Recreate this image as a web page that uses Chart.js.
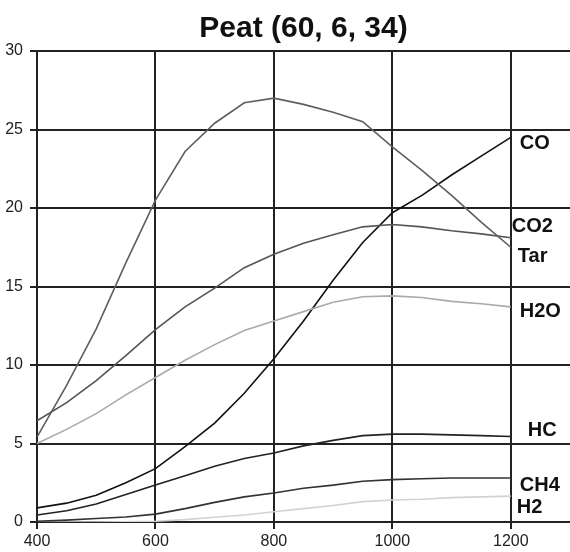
<!DOCTYPE html>
<html>
<head>
<meta charset="utf-8">
<script src="https://cdn.jsdelivr.net/npm/chart.js@4.4.1/dist/chart.umd.min.js"></script>
<style>
  html, body { margin: 0; padding: 0; background: #fff; }
  #wrap { width: 570px; height: 552px; }
</style>
</head>
<body>
<div id="wrap"><canvas id="peat-chart"></canvas></div>
<script>
  // temperatures (x) and gas yields (y)
  var temps = [400, 450, 500, 550, 600, 650, 700, 750, 800, 850, 900, 950, 1000, 1050, 1100, 1150, 1200];
  var tar = [5.4, 8.7, 12.3, 16.5, 20.5, 23.6, 25.4, 26.7, 27.0, 26.6, 26.1, 25.5, 23.9, 22.4, 20.8, 19.1, 17.5];
  var co  = [0.9, 1.2, 1.7, 2.5, 3.4, 4.8, 6.3, 8.2, 10.4, 12.8, 15.4, 17.8, 19.7, 20.8, 22.1, 23.3, 24.5];
  var co2 = [6.45, 7.6, 9.0, 10.6, 12.25, 13.7, 14.9, 16.2, 17.05, 17.75, 18.3, 18.8, 18.95, 18.8, 18.55, 18.35, 18.1];
  var h2o = [5.0, 5.9, 6.9, 8.1, 9.2, 10.3, 11.3, 12.2, 12.8, 13.4, 14.0, 14.35, 14.4, 14.3, 14.05, 13.9, 13.7];
  var hc  = [0.45, 0.72, 1.15, 1.75, 2.35, 2.95, 3.55, 4.05, 4.4, 4.85, 5.2, 5.5, 5.6, 5.6, 5.55, 5.5, 5.45];
  var ch4 = [0.05, 0.12, 0.22, 0.32, 0.5, 0.85, 1.25, 1.6, 1.85, 2.15, 2.35, 2.6, 2.7, 2.75, 2.8, 2.8, 2.8];
  var h2  = [0, 0, 0, 0.02, 0.05, 0.15, 0.3, 0.45, 0.65, 0.85, 1.05, 1.3, 1.4, 1.45, 1.55, 1.6, 1.65];

  var xTicks = [400, 600, 800, 1000, 1200];
  var yTicks = [0, 5, 10, 15, 20, 25, 30];

  var seriesNames = ['Tar', 'CO2', 'H2O', 'CO', 'HC', 'CH4', 'H2'];
  var seriesData = [tar, co2, h2o, co, hc, ch4, h2];
  var seriesColors = ['#5e5e5e', '#555555', '#aaaaaa', '#111111', '#222222', '#333333', '#d2d2d2'];

  // end labels: y value where each name sits, and pixel nudge right of 1200
  var labelNames = ['CO', 'CO2', 'Tar', 'H2O', 'HC', 'CH4', 'H2'];
  var labelY = [24.1, 18.8, 16.9, 13.4, 5.8, 2.3, 0.95];
  var labelDx = [9, 1, 7, 9, 17, 9, 6];

  function toPoints(vals) {
    return vals.map(function (v, i) { return { x: temps[i], y: v }; });
  }

  var endLabels = {
    id: 'endLabels',
    afterDatasetsDraw: function (chart) {
      var ctx = chart.ctx;
      var xs = chart.scales.x, ys = chart.scales.y;
      ctx.save();
      ctx.font = 'bold 20px "Liberation Sans", Arial, sans-serif';
      ctx.fillStyle = '#111';
      ctx.textAlign = 'left';
      ctx.textBaseline = 'middle';
      labelNames.forEach(function (name, i) {
        ctx.fillText(name, xs.getPixelForValue(1200) + labelDx[i], ys.getPixelForValue(labelY[i]));
      });
      ctx.restore();
    }
  };

  var ctx = document.getElementById('peat-chart').getContext('2d');
  new Chart(ctx, {
    type: 'line',
    data: {
      datasets: seriesNames.map(function (name, i) {
        return {
          label: name,
          data: toPoints(seriesData[i]),
          borderColor: seriesColors[i],
          borderWidth: 1.6,
          pointRadius: 0,
          tension: 0,
          fill: false
        };
      })
    },
    options: {
      responsive: true,
      maintainAspectRatio: false,
      animation: false,
      layout: { padding: 0 },
      scales: {
        x: {
          type: 'linear',
          min: 400,
          max: 1300,
          afterBuildTicks: function (scale) {
            scale.ticks = xTicks.map(function (v) { return { value: v }; });
          },
          afterFit: function (scale) { scale.height = 30; },
          grid: { color: '#222', lineWidth: 2, tickLength: 7 },
          border: { color: '#222', width: 2 },
          ticks: {
            color: '#222',
            padding: 3,
            maxRotation: 0,
            callback: function (v) { return String(v); },
            font: { family: '"Liberation Sans", Arial, sans-serif', size: 16 }
          }
        },
        y: {
          min: 0,
          max: 30,
          afterBuildTicks: function (scale) {
            scale.ticks = yTicks.map(function (v) { return { value: v }; });
          },
          afterFit: function (scale) { scale.width = 37; },
          grid: { color: '#222', lineWidth: 2, tickLength: 7 },
          border: { color: '#222', width: 2 },
          ticks: {
            color: '#222',
            padding: 7,
            callback: function (v) { return String(v); },
            font: { family: '"Liberation Sans", Arial, sans-serif', size: 16 }
          }
        }
      },
      plugins: {
        legend: { display: false },
        tooltip: { enabled: false },
        title: {
          display: true,
          fullSize: false,
          text: 'Peat (60, 6, 34)',
          color: '#111',
          font: { family: '"Liberation Sans", Arial, sans-serif', size: 30, weight: 'bold', lineHeight: 1.2 },
          padding: { top: 11, bottom: 4 }
        }
      }
    },
    plugins: [endLabels]
  });
</script>
</body>
</html>
